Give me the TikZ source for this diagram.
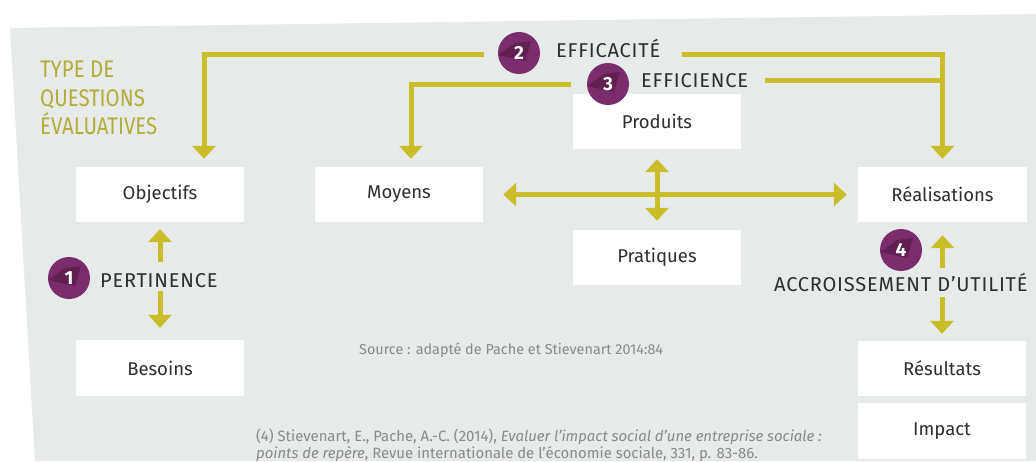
\documentclass[tikz,border=0pt]{standalone}
\usepackage{fontspec}
\setmainfont{Fira Sans}
\newfontfamily\condfont[FakeStretch=0.85]{Fira Sans}
\newfontfamily\largefont[LetterSpace=4]{Fira Sans}
\usetikzlibrary{arrows.meta,positioning,calc}
\definecolor{fond}{HTML}{E6EAE9}
\definecolor{jaune}{HTML}{C9BE2A}
\definecolor{titre}{HTML}{B3AC3A}
\definecolor{prune}{HTML}{7B2C6C}
\definecolor{prunesombre}{HTML}{62204F}
\definecolor{texte}{HTML}{2E2E2E}
\definecolor{gris}{HTML}{8A8A8A}
\tikzset{
  boite/.style={fill=white, minimum width=168pt, minimum height=55pt, inner sep=0pt,
    text=texte, font=\fontsize{18.5}{22}\selectfont},
  trait/.style={draw=jaune, line width=5pt},
  fleche/.style={trait, -{Triangle[width=23pt,length=13pt]}},
  flechedouble/.style={trait, {Triangle[width=23pt,length=13pt]}-{Triangle[width=23pt,length=13pt]}},
  pastille/.style={circle, fill=prune, minimum size=42pt, inner sep=0pt, text=white,
    font=\fontsize{19}{22}\selectfont\bfseries,
    path picture={\fill[prunesombre] ($(path picture bounding box.center)+(-21pt,-2pt)$)
      -- ++(17pt,12pt) -- ++(16pt,2pt) -- ++(-6pt,-20pt) -- cycle;}},
  etiquette/.style={inner sep=0pt, anchor=base west, text=texte, font=\largefont\fontsize{20}{24}\selectfont},
  titrelig/.style={inner sep=0pt, anchor=base west, text=titre, font=\condfont\fontsize{24}{28}\selectfont},
  note/.style={inner sep=0pt, anchor=base west, text=gris, font=\fontsize{14.9}{17}\selectfont},
}
\begin{document}
\begin{tikzpicture}[x=1pt, y=-1pt]
  % fond
  \useasboundingbox (0,0) rectangle (1036,461);
  \fill[white] (0,0) rectangle (1036,461);
  \fill[fond] (10,28) -- (1036,14) -- (1036,461) -- (35,461) -- cycle;

  % titre
  \node[titrelig] (t1) at (40,77) {TYPE DE};
  \node[titrelig] (t2) at (40,106) {QUESTIONS};
  \node[titrelig] (t3) at (40,134) {ÉVALUATIVES};

  % boites
  \node[boite] (obj) at (160,194.5) {Objectifs};
  \node[boite] (moy) at (399,194.5) {Moyens};
  \node[boite] (prod) at (657,121.5) {Produits};
  \node[boite] (prat) at (657,257.5) {Pratiques};
  \node[boite, minimum width=169pt] (real) at (942.5,194.5) {Réalisations};
  \node[boite, minimum height=56pt] (bes) at (160,368) {Besoins};
  \node[boite] (res) at (942,368.5) {Résultats};
  \node[boite, minimum height=56pt] (imp) at (942,431) {Impact};

  % pastilles et libelles
  \node[pastille] (p1) at (69,278) {1};
  \node[pastille] (p2) at (519,53) {2};
  \node[pastille] (p3) at (608,84) {3};
  \node[pastille] (p4) at (901,250) {4};
  \node[etiquette] (pertinence) at (100,287) {PERTINENCE};
  \node[etiquette] (efficacite) at (556,57) {EFFICACITÉ};
  \node[etiquette] (efficience) at (641,87) {EFFICIENCE};
  \node[etiquette] (accroissement) at (774,291) {ACCROISSEMENT D’UTILITÉ};

  % efficacite
  \coordinate (e2g) at (484,54);
  \coordinate (e2d) at (682,54);
  \draw[fleche] (e2g) -| ([xshift=44pt,yshift=8pt]obj.north);
  \draw[fleche] (e2d) -| ([yshift=8pt]real.north);

  % efficience
  \coordinate (e3g) at (571,84);
  \coordinate (e3d) at (765,80);
  \draw[fleche] (e3g) -| ([xshift=12pt,yshift=8pt]moy.north);
  \draw[trait] (e3d) -- (e3d -| real.north);

  % moyens, produits, pratiques, realisations
  \draw[flechedouble, shorten <=20pt, shorten >=11pt] (moy.east) -- (real.west);
  \draw[flechedouble, shorten <=10pt, shorten >=9pt] (prod.south) -- (prat.north);

  % pertinence
  \coordinate (pe1) at (160,262);
  \coordinate (pe2) at (160,291);
  \draw[fleche] (pe1) -- ([yshift=-7pt]obj.south);
  \draw[fleche] (pe2) -- ([yshift=12pt]bes.north);

  % accroissement d'utilite
  \coordinate (ac1) at (942.5,268);
  \coordinate (ac2) at (942,297);
  \draw[fleche] (ac1) -- ([yshift=-13pt]real.south);
  \draw[fleche] (ac2) -- ([yshift=7pt]res.north);

  % sources
  \node[note, font=\fontsize{14.4}{17}\selectfont] (source) at (359,354) {Source : adapté de Pache et Stievenart 2014:84};
  \node[note] (ref1) at (256,441) {(4) Stievenart, E., Pache, A.-C. (2014), \textit{Evaluer l’impact social d’une entreprise sociale :}};
  \node[note] (ref2) at (256,458) {\textit{points de repère}, Revue internationale de l’économie sociale, 331, p. 83-86.};
\end{tikzpicture}
\end{document}
